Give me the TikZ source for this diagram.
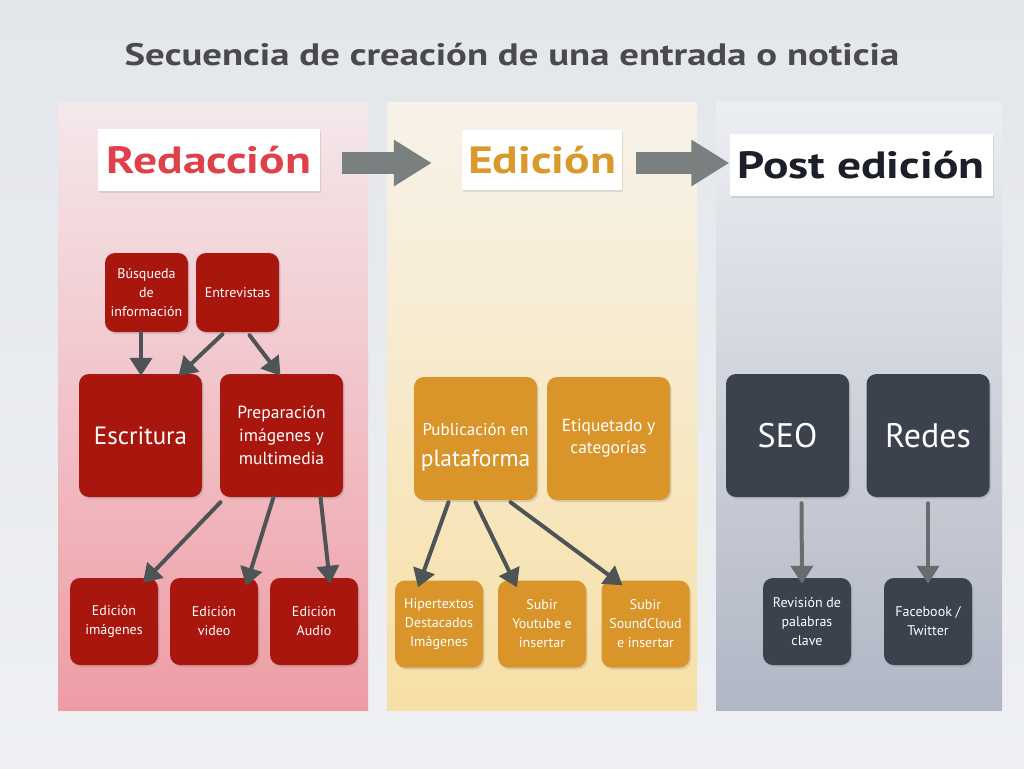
\documentclass[tikz,border=0pt]{standalone}
\usepackage{fontspec}
\setmainfont{PT Sans}
\newfontfamily\widebold[FakeStretch=1.25]{PT Sans Bold}
\usepackage{tikz}
\usetikzlibrary{positioning,arrows.meta,shadows}
\definecolor{slidebg}{HTML}{E3E6EB}
\definecolor{slidebg2}{HTML}{EEF0F3}
\definecolor{titleink}{HTML}{4A4A4C}
\definecolor{redbox}{HTML}{A8160E}
\definecolor{redhead}{HTML}{E0404A}
\definecolor{redtop}{HTML}{F4E8EB}
\definecolor{redbot}{HTML}{EE9CA4}
\definecolor{yelbox}{HTML}{D9952A}
\definecolor{yelhead}{HTML}{D99A2B}
\definecolor{yeltop}{HTML}{F7F2EA}
\definecolor{yelbot}{HTML}{F7E0A6}
\definecolor{grybox}{HTML}{3B414D}
\definecolor{grytop}{HTML}{ECEEF2}
\definecolor{grybot}{HTML}{B0B6C4}
\definecolor{postink}{HTML}{1C1E2A}
\definecolor{flow}{HTML}{7A807F}
\definecolor{linkink}{HTML}{4E5356}
\tikzset{
  card/.style={rounded corners=10pt, inner sep=2pt, align=center, text=white,
    drop shadow={shadow xshift=1.5pt, shadow yshift=-2pt, opacity=0.25}},
  bigcard/.style={card, minimum width=123pt, minimum height=123pt},
  smallcard/.style={card, minimum width=88pt, minimum height=87pt, font=\fontsize{14}{19}\selectfont},
  headbox/.style={fill=white, inner sep=5pt, minimum height=62pt, font=\fontsize{38}{40}\widebold,
    drop shadow={shadow xshift=1pt, shadow yshift=-1.5pt, opacity=0.2}},
  flowarrow/.style={flow, line width=22pt, -{Triangle[length=38pt,width=44pt]}},
  linkarrow/.style={linkink, line width=4pt, line cap=round, -{Triangle[length=18pt,width=22pt]}}
}
\begin{document}
\begin{tikzpicture}[x=1pt, y=-1pt]
  \useasboundingbox (0,0) rectangle (1024,768);
  \shade[top color=slidebg, bottom color=slidebg2] (0,0) rectangle (1024,768);
  \node[font=\fontsize{31}{36}\widebold, text=titleink] (title) at (512,55) {Secuencia de creación de una entrada o noticia};
  % columnas
  \shade[top color=redtop, bottom color=redbot] (58,102) rectangle (368,710);
  \shade[top color=yeltop, bottom color=yelbot] (387,102) rectangle (697,710);
  \shade[top color=grytop, bottom color=grybot] (716,102) rectangle (1002,710);
  % cabeceras
  \node[headbox, minimum width=222pt, text=redhead] (redac) at (209,160) {Redacción};
  \node[headbox, minimum width=160pt, minimum height=60pt, text=yelhead] (edic) at (542,160) {Edición};
  \node[headbox, minimum width=263pt, text=postink] (post) at (861,165) {Post edición};
  \draw[flowarrow] ([xshift=22pt,yshift=-3pt]redac.east) -- ([xshift=-30pt,yshift=-3pt]edic.west);
  \draw[flowarrow] ([xshift=14pt,yshift=-3pt]edic.east) -- ([yshift=-3pt]edic.east -| post.west);
  % redaccion
  \node[card, fill=redbox, minimum width=83pt, minimum height=79pt, font=\fontsize{14}{19}\selectfont] (busq) at (146.5,292.5) {Búsqueda\\de\\información};
  \node[card, fill=redbox, minimum width=83pt, minimum height=79pt, font=\fontsize{14}{19}\selectfont] (entr) at (237.5,292.5) {Entrevistas};
  \node[bigcard, fill=redbox, font=\fontsize{25}{28}\selectfont] (escr) at (140.5,435.5) {Escritura};
  \node[bigcard, fill=redbox, font=\fontsize{17.5}{23}\selectfont] (prep) at (281.5,435.5) {Preparación\\imágenes y\\multimedia};
  \node[smallcard, fill=redbox] (edimg) at (114,621.5) {Edición\\imágenes};
  \node[smallcard, fill=redbox] (edvid) at (214,621.5) {Edición\\video};
  \node[smallcard, fill=redbox] (edaud) at (314,621.5) {Edición\\Audio};
  \draw[linkarrow] ([xshift=-5.5pt]busq.south) -- ([xshift=0.5pt,yshift=-2pt]escr.north);
  \draw[linkarrow] ([xshift=-15pt,yshift=-2pt]entr.south) -- ([xshift=38pt,yshift=-2pt]escr.north);
  \draw[linkarrow] ([xshift=12pt,yshift=-3pt]entr.south) -- ([xshift=-1pt,yshift=-2pt]prep.north);
  \draw[linkarrow] ([xshift=-61pt,yshift=-5pt]prep.south) -- ([xshift=29pt,yshift=-5pt]edimg.north);
  \draw[linkarrow] ([xshift=-8pt]prep.south) -- ([xshift=32pt,yshift=-8pt]edvid.north);
  \draw[linkarrow] ([xshift=39pt]prep.south) -- ([xshift=16pt,yshift=-6pt]edaud.north);
  % edicion
  \node[bigcard, fill=yelbox, font=\fontsize{17}{31}\selectfont] (publ) at (475.5,438.5) {\rule{0pt}{30pt}Publicación en\\{\fontsize{23.5}{26}\selectfont plataforma}};
  \node[bigcard, fill=yelbox, font=\fontsize{17.4}{22}\selectfont] (etiq) at (608.5,438.5) {Etiquetado y\\categorías};
  \node[smallcard, fill=yelbox] (hiper) at (439,624) {Hipertextos\\Destacados\\Imágenes};
  \node[smallcard, fill=yelbox] (yout) at (542,624) {Subir\\Youtube e\\insertar};
  \node[smallcard, fill=yelbox] (sound) at (645.5,624) {Subir\\SoundCloud\\e insertar};
  \draw[linkarrow] ([xshift=-27pt,yshift=-2pt]publ.south) -- ([xshift=-21pt,yshift=-7pt]hiper.north);
  \draw[linkarrow] ([yshift=-2pt]publ.south) -- ([xshift=-25pt,yshift=-7pt]yout.north);
  \draw[linkarrow] ([xshift=35pt,yshift=-2pt]publ.south) -- ([xshift=-23pt,yshift=-5pt]sound.north);
  % post edicion
  \node[bigcard, fill=grybox, font=\fontsize{34}{38}\selectfont] (seo) at (787.5,435.5) {SEO};
  \node[bigcard, fill=grybox, font=\fontsize{34}{38}\selectfont] (redes) at (928,435.5) {Redes};
  \node[smallcard, fill=grybox] (revi) at (807,621.5) {Revisión de\\palabras\\clave};
  \node[smallcard, fill=grybox] (face) at (928,621.5) {Facebook /\\Twitter};
  \draw[linkarrow, flow!85!black] ([xshift=14pt,yshift=-6pt]seo.south) -- ([xshift=-5pt,yshift=-6pt]revi.north);
  \draw[linkarrow, flow!85!black] ([yshift=-6pt]redes.south) -- ([yshift=-6pt]face.north);
\end{tikzpicture}
\end{document}
